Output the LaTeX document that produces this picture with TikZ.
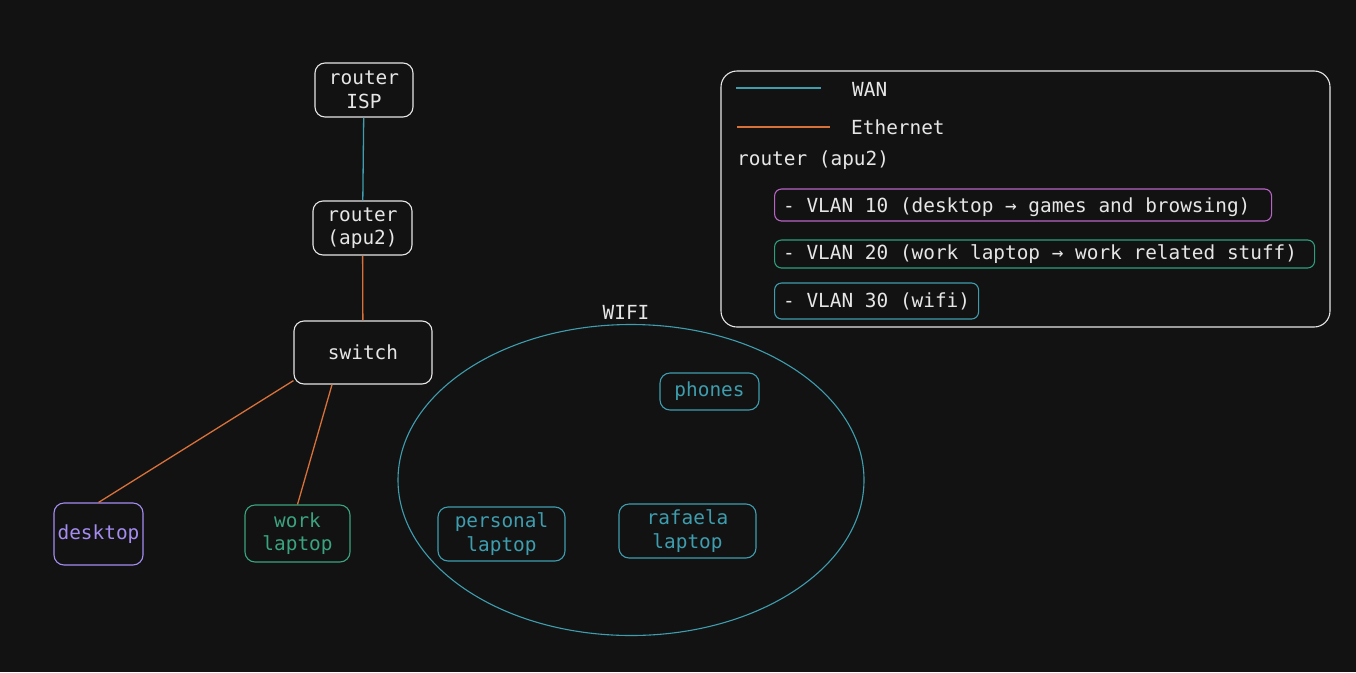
\documentclass[tikz,border=0pt]{standalone}
\usepackage{fontspec}
\setmainfont{DejaVu Sans Mono}
\usetikzlibrary{shapes.geometric}
\definecolor{bg}{HTML}{121212}
\definecolor{fg}{HTML}{E6E6E6}
\definecolor{teal}{HTML}{3E9DAE}
\definecolor{orng}{HTML}{D8703A}
\definecolor{purp}{HTML}{A48CF0}
\definecolor{grn}{HTML}{3AA37F}
\definecolor{pink}{HTML}{B864C4}
\definecolor{vgrn}{HTML}{2E9E7E}
\tikzset{
  txt/.style={font=\fontsize{19.4}{23.5}\selectfont, text=fg, align=center, inner sep=0pt},
  box/.style={txt, draw=fg, line width=1.1pt, rounded corners=10pt},
  wire/.style={line width=1.3pt},
}
\begin{document}
\begin{tikzpicture}[x=1pt,y=-1pt]
\fill[bg] (0,0) rectangle (1356,672);
\useasboundingbox (0,0) rectangle (1356,672);

% main nodes
\node[box, minimum width=98, minimum height=54] (isp) at (364,90) {router\\ ISP};
\node[box, minimum width=99, minimum height=54] (apu) at (362.5,228) {router\\ (apu2)};
\node[box, minimum width=138, minimum height=63] (switch) at (363,352.5) {switch};
\node[box, draw=purp, text=purp, minimum width=89, minimum height=62] (desktop) at (98.5,534) {desktop};
\node[box, draw=grn, text=grn, minimum width=105, minimum height=57] (work) at (297.5,533.5) {work\\ laptop};

% wifi
\node[draw=teal, line width=1.1pt, ellipse, minimum width=466, minimum height=311, inner sep=0pt] (wifi) at (631,480) {};
\node[txt] (wifilabel) at (626,312) {WIFI};
\node[box, draw=teal, text=teal, minimum width=99, minimum height=37] (phones) at (709.5,391.5) {phones};
\node[box, draw=teal, text=teal, minimum width=127, minimum height=54] (personal) at (501.5,534) {personal\\ laptop};
\node[box, draw=teal, text=teal, minimum width=137, minimum height=54] (rafaela) at (687.5,531) {rafaela\\ laptop};

% connectors
\draw[wire, teal] (isp) -- (apu);
\draw[wire, orng] (apu) -- (switch);
\draw[wire, orng] (switch.202) -- (desktop.north);
\draw[wire, orng] (switch.226) -- (work.north);

% legend
\node[draw=fg, line width=1.1pt, rounded corners=16pt, minimum width=609, minimum height=256, inner sep=0pt] (legend) at (1025.5,199) {};
\coordinate (wanA) at (736,88);
\coordinate (wanB) at (821,88);
\draw[wire, teal] (wanA) -- (wanB);
\node[txt, anchor=west] (wan) at (852,89) {WAN};
\coordinate (ethA) at (737,127);
\coordinate (ethB) at (830,127);
\draw[wire, orng] (ethA) -- (ethB);
\node[txt, anchor=west] (eth) at (851,127) {Ethernet};
\node[txt, anchor=west] (rt) at (737,160) {router (apu2)};

\node[draw=pink, line width=1.1pt, rounded corners=7pt, minimum width=497, minimum height=32, inner sep=0pt, anchor=west] (v10) at (774,205) {};
\node[txt, anchor=west] (v10t) at (783,207) {- VLAN 10 (desktop → games and browsing)};
\node[draw=vgrn, line width=1.1pt, rounded corners=7pt, minimum width=540, minimum height=28, inner sep=0pt, anchor=west] (v20) at (774,254) {};
\node[txt, anchor=west] (v20t) at (783,254) {- VLAN 20 (work laptop → work related stuff)};
\node[draw=teal, line width=1.1pt, rounded corners=7pt, minimum width=204, minimum height=36, inner sep=0pt, anchor=west] (v30) at (774,301) {};
\node[txt, anchor=west] (v30t) at (783,301) {- VLAN 30 (wifi)};
\end{tikzpicture}
\end{document}
